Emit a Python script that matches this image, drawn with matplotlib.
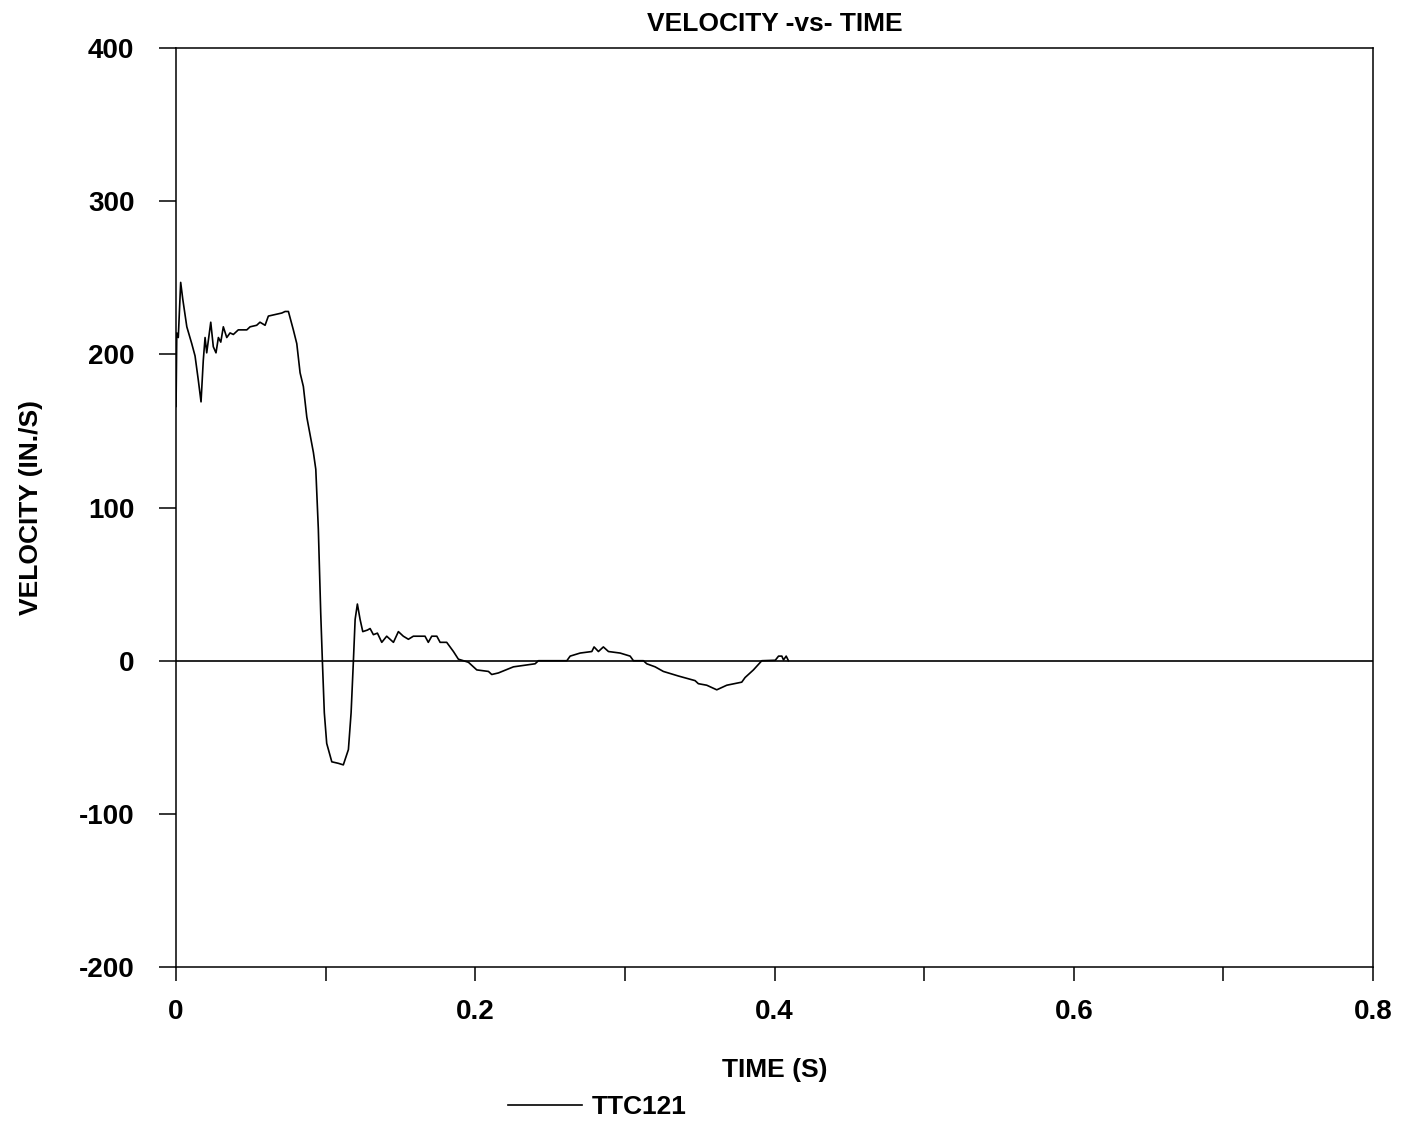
import matplotlib.pyplot as plt
from matplotlib.ticker import MultipleLocator

# TTC121 velocity trace
time_s = [0.0, 0.0005, 0.0015, 0.0031, 0.0045, 0.0072, 0.0105, 0.0127, 0.0149, 0.0167,
          0.0182, 0.0194, 0.0205, 0.0232, 0.0249, 0.0267, 0.0283, 0.0299, 0.0316, 0.0339,
          0.0361, 0.0383, 0.0416, 0.0473, 0.0495, 0.0539, 0.0561, 0.0595, 0.0617, 0.0662,
          0.0707, 0.0729, 0.0751, 0.0784, 0.0807, 0.0829, 0.0851, 0.0874, 0.0918, 0.0934,
          0.0951, 0.0967, 0.0978, 0.0991, 0.1007, 0.1041, 0.1085, 0.1118, 0.1152, 0.1170,
          0.1185, 0.1197, 0.1212, 0.1230, 0.1248, 0.1279, 0.1297, 0.1319, 0.1346, 0.1375,
          0.1408, 0.1453, 0.1486, 0.1519, 0.1553, 0.1586, 0.1664, 0.1686, 0.1709, 0.1743,
          0.1765, 0.1809, 0.1854, 0.1887, 0.1954, 0.2010, 0.2088, 0.2110, 0.2154, 0.2255,
          0.2400, 0.2422, 0.2612, 0.2634, 0.2701, 0.2779, 0.2794, 0.2823, 0.2856, 0.2890,
          0.2968, 0.3035, 0.3057, 0.3124, 0.3146, 0.3202, 0.3257, 0.3358, 0.3469, 0.3491,
          0.3547, 0.3614, 0.3681, 0.3781, 0.3803, 0.3859, 0.3915, 0.4005, 0.4027, 0.4049,
          0.4060, 0.4078, 0.4093]
velocity = [166, 214, 211, 247, 236, 218, 207, 199, 183, 169,
            196, 211, 201, 221, 205, 201, 211, 208, 218, 211,
            214, 213, 216, 216, 218, 219, 221, 219, 225, 226,
            227, 228, 228, 216, 207, 188, 179, 159, 136, 125,
            86, 31, 0, -34, -54, -66, -67, -68, -58, -34,
            -1, 27, 37, 27, 19, 20, 21, 17, 18, 12,
            16, 12, 19, 16, 14, 16, 16, 12, 16, 16,
            12, 12, 6, 1, -1, -6, -7, -9, -8, -4,
            -2, 0, 0, 3, 5, 6, 9, 6, 9, 6,
            5, 3, 0, 0, -2, -4, -7, -10, -13, -15,
            -16, -19, -16, -14, -11, -6, 0, 0.3, 3, 3,
            0.5, 3, 0]

plt.rcParams['font.family'] = ['Liberation Sans', 'DejaVu Sans']
plt.rcParams['font.weight'] = 'bold'
plt.rcParams['axes.unicode_minus'] = False

fig = plt.figure(figsize=(14.14, 11.25), dpi=100)
ax = fig.add_axes([0.1245, 0.1404, 0.8465, 0.8169])

ax.plot(time_s, velocity, color='black', lw=1.2, label='TTC121')
ax.axhline(0, color='black', lw=1.2)

ax.set_xlim(0, 0.8)
ax.set_ylim(-200, 400)
ax.xaxis.set_major_locator(MultipleLocator(0.2))
ax.xaxis.set_minor_locator(MultipleLocator(0.1))
ax.yaxis.set_major_locator(MultipleLocator(100))
ax.xaxis.set_major_formatter(lambda v, p: f'{v:g}')

ax.tick_params(axis='x', which='both', direction='out', length=10, width=1.1, pad=13, labelsize=20)
ax.tick_params(axis='y', which='major', direction='out', length=12, width=1.1, pad=18, labelsize=20)
for s in ax.spines.values():
    s.set_linewidth(1.1)

ax.set_title('VELOCITY -vs- TIME', fontsize=19, fontweight='bold', pad=12)
ax.set_xlabel('TIME (S)', fontsize=19, fontweight='bold', labelpad=24)
ax.set_ylabel('VELOCITY (IN./S)', fontsize=19, fontweight='bold', labelpad=26)

ax.legend(loc='center', bbox_to_anchor=(0.352, -0.152), frameon=False,
          fontsize=19, handlelength=2.8, handletextpad=0.4)

fig.savefig('out.png', dpi=100)
